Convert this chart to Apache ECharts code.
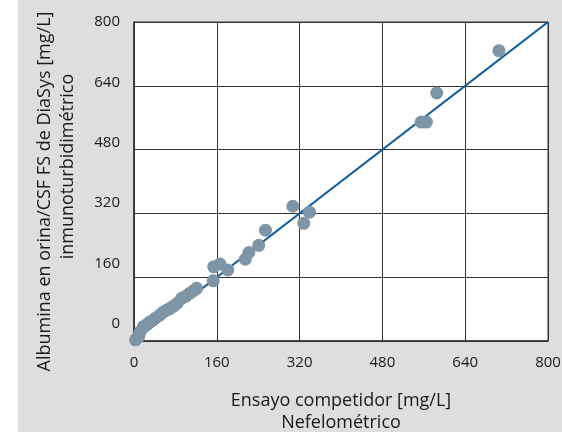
<!DOCTYPE html>
<html>
<head>
<meta charset="utf-8">
<script src="https://cdn.jsdelivr.net/npm/echarts@6/dist/echarts.min.js"></script>
<style>
html, body { margin: 0; padding: 0; background: #fff; }
#chart { position: absolute; left: 18px; top: 0; width: 544px; height: 432px; background: #dddee0; }
</style>
</head>
<body>
<div id="chart"></div>
<script>
// valores (competidor vs DiaSys)
var xValues = [3, 6, 9, 12, 18, 25, 31, 41, 50, 57, 64, 70, 77, 83, 92, 100, 108, 115, 121,
  153, 154, 166, 181, 215, 222, 241, 254, 307, 328, 339, 555, 565, 585, 705];
var yValues = [3, 7, 11, 23, 36, 42, 48, 57, 65, 73, 78, 82, 88, 94, 107, 112, 120, 126, 132,
  151, 186, 193, 178, 205, 222, 240, 278, 338, 295, 323, 549, 549, 622, 728];
// linea de identidad
var lineX = [0, 800];
var lineY = [0, 800];
var tickValues = [0, 160, 320, 480, 640, 800];

var font = "'Open Sans', sans-serif";
var textColor = '#1a1a1a';

var points = xValues.map(function (x, i) { return [x, yValues[i]]; });
var linePoints = lineX.map(function (x, i) { return [x, lineY[i]]; });

var chart = echarts.init(document.getElementById('chart'));
chart.setOption({
  animation: false,
  grid: {
    left: 116, right: 14, top: 22, bottom: 91,
    containLabel: false,
    outerBoundsMode: 'none',
    show: true,
    backgroundColor: '#fff',
    borderColor: '#333',
    borderWidth: 1
  },
  xAxis: {
    type: 'value',
    min: 0, max: 800, interval: 160,
    axisLine: { show: true, lineStyle: { color: '#333', width: 1.5 } },
    axisTick: { show: false },
    axisLabel: { margin: 14, color: textColor, fontSize: 15, fontFamily: font },
    splitLine: { show: true, lineStyle: { color: '#333', width: 1 } },
    name: 'Ensayo competidor [mg/L]\nNefelométrico',
    nameLocation: 'middle',
    nameGap: 49,
    nameTextStyle: { color: textColor, fontSize: 18, lineHeight: 22, fontFamily: font }
  },
  yAxis: [
    {
      type: 'value',
      min: 0, max: 800, interval: 160,
      axisLine: { show: true, lineStyle: { color: '#333', width: 1.5 } },
      axisTick: { show: false },
      axisLabel: { show: false },
      splitLine: { show: true, lineStyle: { color: '#333', width: 1 } },
      name: 'Albumina en orina/CSF FS de DiaSys [mg/L]',
      nameLocation: 'middle',
      nameGap: 78,
      nameTextStyle: { color: textColor, fontSize: 18, lineHeight: 23, fontFamily: font, padding: [0, 20, 0, 0] }
    },
    {
      // solo etiquetas, desplazadas como en el original
      type: 'value',
      position: 'left',
      min: -45, max: 800,
      axisLine: { show: false },
      axisTick: { show: false },
      splitLine: { show: false },
      axisLabel: { customValues: tickValues, margin: 14, color: textColor, fontSize: 15, fontFamily: font },
      name: 'inmunoturbidimétrico',
      nameLocation: 'middle',
      nameGap: 55,
      nameTextStyle: { color: textColor, fontSize: 18, lineHeight: 23, fontFamily: font, padding: [0, 0, 0, 30] }
    }
  ],
  series: [
    {
      type: 'line',
      data: linePoints,
      symbol: 'none',
      lineStyle: { color: '#0b5c9e', width: 2.2 },
      z: 2
    },
    {
      type: 'scatter',
      data: points,
      symbolSize: 13,
      itemStyle: { color: '#7d95a6', opacity: 1 },
      z: 3
    }
  ]
});
</script>
</body>
</html>
